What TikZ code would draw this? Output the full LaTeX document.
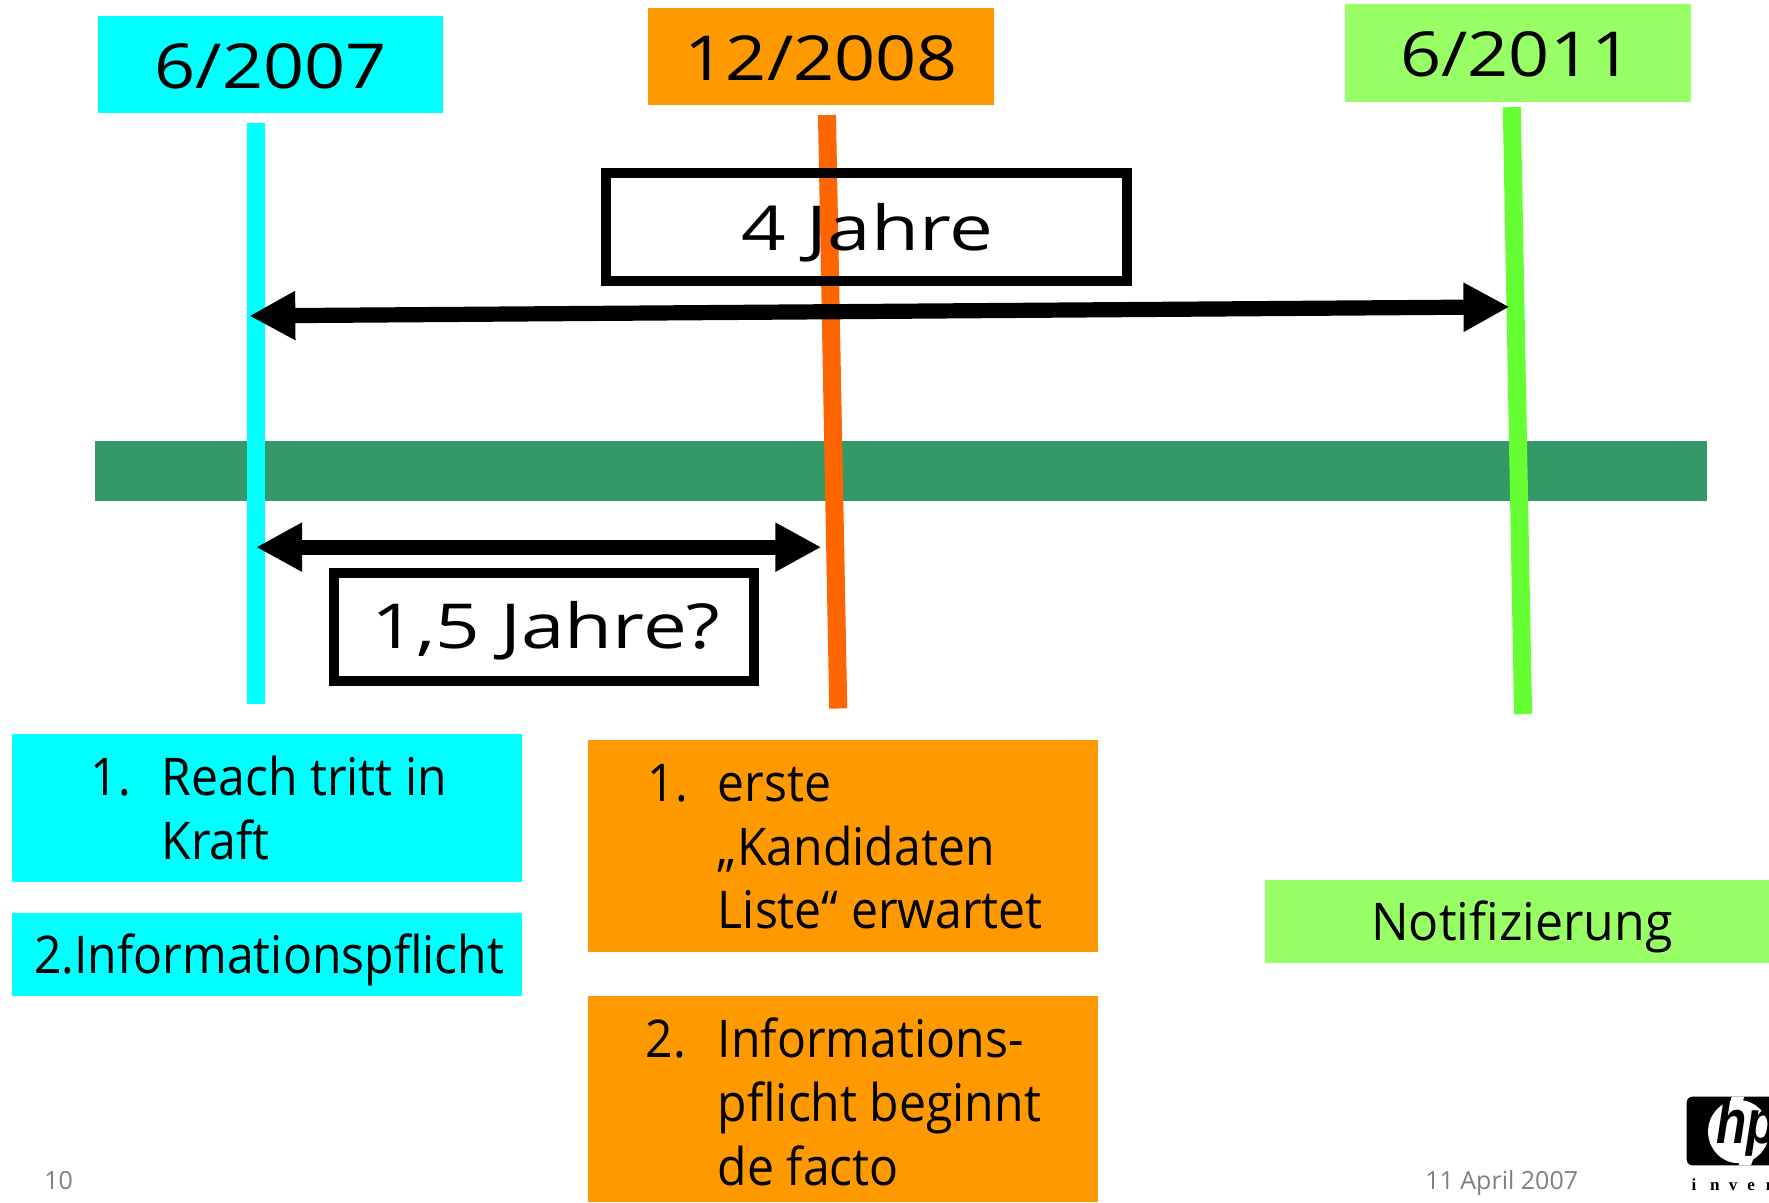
\documentclass[tikz,border=0pt]{standalone}
\usepackage{fontspec}
\setmainfont{Open Sans}
\newfontfamily\hpfont{Liberation Sans}
\newfontfamily\invfont{Liberation Serif}
\usetikzlibrary{arrows.meta}
\definecolor{cy}{HTML}{00FFFF}
\definecolor{orb}{HTML}{FF9900}
\definecolor{lim}{HTML}{99FF66}
\definecolor{band}{HTML}{339966}
\definecolor{orl}{HTML}{FF6600}
\definecolor{grl}{HTML}{66FF33}
\definecolor{foot}{HTML}{808080}
\newcommand{\invl}[1]{\makebox[9.3pt][l]{#1}}
\tikzset{x=0.564pt,y=-0.564pt,
 bar/.style={line width=9pt},
 dbl/.style={line width=7.6pt,{Triangle[length=23pt,width=23pt]}-{Triangle[length=23pt,width=23pt]}},
 frm/.style={draw=black,line width=5pt,inner sep=0pt},
 head/.style={inner sep=0pt,font=\fontsize{31}{31}\selectfont,xscale=1.16},
 wide/.style={inner sep=0pt,font=\fontsize{31}{31}\selectfont,xscale=1.26},
 body/.style={inner sep=0pt,anchor=base west,font=\fontsize{26}{26}\selectfont,xscale=0.925},
 flab/.style={inner sep=0pt,anchor=base west,text=foot,font=\fontsize{12.5}{12.5}\selectfont}}
\begin{document}
\begin{tikzpicture}
\clip (0,0) rectangle (1568,1065.5);
\fill[white] (0,0) rectangle (1568,1065.5);
% colour blocks
\fill[cy] (87,14) rectangle (393,100);
\fill[orb] (574,7) rectangle (881,93);
\fill[lim] (1192,3.5) rectangle (1499,90);
\fill[band] (84,391) rectangle (1513,444);
\fill[cy] (11,651) rectangle (463,782);
\fill[cy] (11,809) rectangle (463,883);
\fill[orb] (521,656) rectangle (973,843.5);
\fill[orb] (521,883) rectangle (973,1065.5);
\fill[lim] (1121,780) rectangle (1568,854);
% coordinates
\coordinate (c1) at (227,109); \coordinate (c2) at (227,624);
\coordinate (o1) at (733,102); \coordinate (o2) at (743,628);
\coordinate (g1) at (1340,95); \coordinate (g2) at (1350,633);
\coordinate (a1) at (221,280); \coordinate (a2) at (1338,272);
\coordinate (b1) at (227,485); \coordinate (b2) at (728,485);
\draw[bar,cy] (c1) -- (c2);
\draw[bar,orl] (o1) -- (o2);
\draw[bar,grl] (g1) -- (g2);
\node[frm,minimum width=260pt,minimum height=54pt] (f1) at (768,201) {};
\node[frm,minimum width=210pt,minimum height=54pt] (f2) at (482.5,556) {};
\draw[dbl] (a1) -- (a2);
\draw[dbl] (b1) -- (b2);
% heads
\node[head] (h1) at (240,59) {6/2007};
\node[head] (h2) at (728,52) {12/2008};
\node[head] (h3) at (1344,48) {6/2011};
\node[wide] (t1) at (769,206) {4 Jahre};
\node[wide] (t2) at (484,559) {1,5 Jahre?};
% lists
\node[body] (l1) at (80,705) {1.};
\node[body] (l2) at (143,705) {Reach tritt in};
\node[body] (l3) at (143,762) {Kraft};
\node[body] (l4) at (30,863) {2.Informationspflicht};
\node[body] (m1) at (574,710) {1.};
\node[body] (m2) at (636,710) {erste};
\node[body] (m3) at (636,767) {„Kandidaten};
\node[body] (m4) at (636,823) {Liste“ erwartet};
\node[body] (m5) at (572,937) {2.};
\node[body] (m6) at (636,937) {Informations-};
\node[body] (m7) at (636,994) {pflicht beginnt};
\node[body] (m8) at (636,1051) {de facto};
\node[body,xscale=1.04] (n1) at (1215,834) {Notifizierung};
% footer
\node[flab] (p) at (39,1054) {10};
\node[flab] (d) at (1263,1054) {11 April 2007};
% logo
\fill[black,rounded corners=3pt] (1495,972) rectangle (1600,1033);
\fill[white] (1541,1003) ellipse[x radius=27,y radius=28];
\fill[white] (1535,972) -- (1546,972) -- (1538,998) -- (1527,998) -- cycle;
\fill[white] (1541,1033) -- (1552,1033) -- (1560,1010) -- (1549,1010) -- cycle;
\node[inner sep=0pt,anchor=base west,xscale=0.8,font=\fontsize{31}{31}\selectfont\hpfont\bfseries\itshape] (hp) at (1521,1014) {hp};
\node[inner sep=0pt,anchor=base west,font=\fontsize{8.5}{8.5}\selectfont\invfont\bfseries] (inv) at (1499,1055) {\invl{i}\invl{n}\invl{v}\invl{e}\invl{n}\invl{t}};
\end{tikzpicture}
\end{document}
